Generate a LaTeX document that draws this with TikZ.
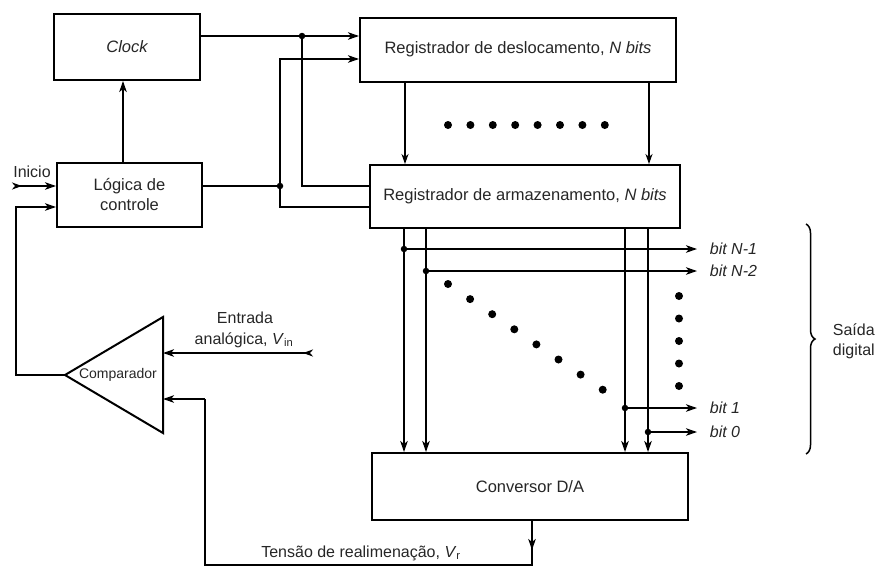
\documentclass[tikz,border=0pt]{standalone}
\usepackage{fontspec}
\setmainfont{Liberation Sans}
\usetikzlibrary{arrows.meta,decorations.pathreplacing}

\begin{document}
\begin{tikzpicture}[x=1pt,y=-1pt,
  line width=1.8pt,
  >={Stealth[length=11pt,width=7.5pt,inset=3pt]},
  box/.style={draw, line width=2pt, inner sep=0pt, text=black!85,
              font=\fontsize{16.5}{20}\selectfont},
  lbl/.style={text=black!85, inner sep=0pt, font=\fontsize{16}{20}\selectfont},
  bitlbl/.style={lbl, anchor=west, font=\fontsize{16}{20}\selectfont\itshape},
  jdot/.style={circle, fill, inner sep=0pt, minimum size=6.5pt},
  bigdot/.style={circle, fill, inner sep=0pt, minimum size=8pt},
  thinarrow/.style={->, line width=1.2pt, >={Stealth[length=10pt,width=7pt,inset=3pt]}}]
\useasboundingbox (0,0) rectangle (878,568);

% ---- blocks ----
\node[box, minimum width=146pt, minimum height=66pt] (clock) at (127,47) {\itshape Clock};
\node[box, minimum width=145pt, minimum height=64pt, align=center] (logic) at (129.5,195)
  {Lógica de\\controle};
\node[box, minimum width=316pt, minimum height=64pt] (shift) at (518,49.5)
  {Registrador de deslocamento, \textit{N bits}};
\node[box, minimum width=310pt, minimum height=63pt] (store) at (525,196.5)
  {Registrador de armazenamento, \textit{N bits}};
\node[box, minimum width=316pt, minimum height=67pt] (dac) at (530,486.5) {Conversor D/A};

% comparator triangle
\coordinate (ctop) at (163,317);
\coordinate (cbot) at (163,433);
\coordinate (ctip) at (65,375);
\draw[line width=2pt, line join=miter] (ctop) -- (cbot) -- (ctip) -- cycle;
\node[lbl, font=\fontsize{14}{16}\selectfont] (cmp) at (118,375) {Comparador};

% ---- control and clock wiring ----
\draw[->] (logic.north -| 123,0) -- (clock.south -| 123,0);

\coordinate (ja) at (302,36);
\coordinate (jb) at (302,186);
\coordinate (jc) at (280,186);
\coordinate (jd) at (280,59);
\coordinate (je) at (280,207);
\draw[->] (clock.east |- ja) -- (shift.west |- ja);
\draw (ja) -- (jb) -- (store.west |- jb);
\draw (logic.east |- jc) -- (jc);
\draw[->] (jc) -- (jd) -- (shift.west |- jd);
\draw (jc) -- (je) -- (store.west |- je);
\node[jdot] (dja) at (ja) {};
\node[jdot] (djc) at (jc) {};

% start input
\coordinate (ini) at (12,186);
\draw[{Stealth[length=10pt,width=7pt,inset=3pt,reversed]}->] (ini) -- (logic.west |- ini);
\node[lbl] (inilbl) at (32,172) {Inicio};

% comparator output back to control logic
\coordinate (cl1) at (16,375);
\coordinate (cl2) at (16,207);
\draw[->] (ctip) -- (cl1) -- (cl2) -- (logic.west |- cl2);

% analog input
\coordinate (ain) at (313,353);
\draw[{Stealth[length=10pt,width=7pt,inset=3pt,reversed]}->] (ain) -- (ctop |- ain);
\node[lbl] (ainlbl1) at (245,318) {Entrada};
\node[lbl] (ainlbl2) at (244,340) {analógica, \textit{V}\textsubscript{in}};

% feedback from the D/A converter
\coordinate (fa) at (532,550);
\coordinate (fb) at (532,565);
\coordinate (fc) at (205,565);
\coordinate (fd) at (205,399);
\draw[->] (dac.south -| fa) -- (fa);
\draw (532,540) -- (fb) -- (fc) -- (fd);
\draw[->] (fd) -- (ctop |- fd);
\node[lbl] (fblbl) at (361,553) {Tensão de realimenação, \textit{V}\textsubscript{r}};

% ---- shift register to storage register ----
\draw[thinarrow] (shift.south -| 405,0) -- (store.north -| 405,0);
\draw[thinarrow] (shift.south -| 649,0) -- (store.north -| 649,0);
\foreach \i in {0,...,7}
  \node[bigdot] at (448+22.4*\i,125) {};

% ---- storage register to D/A and digital outputs ----
\foreach \x in {404,426,625,648}
  \draw[->] (store.south -| \x,0) -- (dac.north -| \x,0);

\coordinate (b1) at (404,249);
\coordinate (b2) at (426,271);
\coordinate (b3) at (625,408);
\coordinate (b4) at (648,432);
\coordinate (bend) at (697,0);
\foreach \b in {b1,b2,b3,b4} {
  \draw[->] (\b) -- (bend |- \b);
  \node[jdot] at (\b) {};
}
\node[bitlbl] (l1) at (709,249) {bit N-1};
\node[bitlbl] (l2) at (709,271) {bit N-2};
\node[bitlbl] (l3) at (709,408) {bit 1};
\node[bitlbl] (l4) at (709,432) {bit 0};

% dotted diagonal and vertical continuation
\foreach \i in {0,...,7}
  \node[bigdot] at (448+22.1*\i,284+15.1*\i) {};
\foreach \i in {0,...,4}
  \node[bigdot] at (679,296+22.5*\i) {};

% brace around the outputs
\draw[line width=1.5pt, decorate, decoration={brace, amplitude=9pt}]
  (806,224) -- (806,454);
\node[lbl, align=left, anchor=west] (out) at (832,341) {Saída\\digital};
\end{tikzpicture}
\end{document}
